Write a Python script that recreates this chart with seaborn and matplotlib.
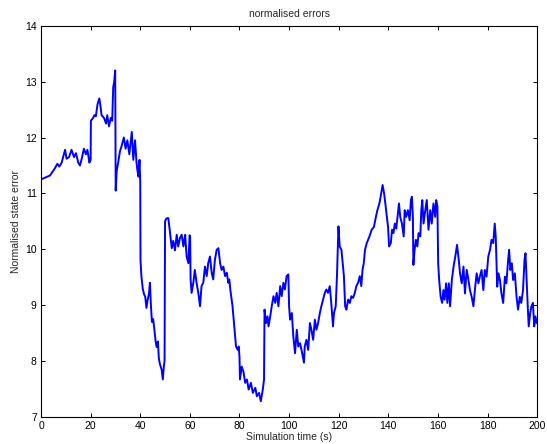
import matplotlib
matplotlib.use("Agg")
import matplotlib.pyplot as plt
import seaborn as sns

# values
time_s = [
    0, 1.5, 2.5, 3.6, 5.6, 6.6, 7.4, 8.3, 9.7, 10.3, 11.3, 12.3, 13.3, 14.1, 15, 15.7,
    16.4, 17.3, 18.1, 18.7, 19.5, 20, 20.1, 21, 21.5, 22.1, 22.8, 23.5, 24, 24.4,
    25.4, 26.2, 26.7, 27.4, 28.1, 28.7, 29.1, 29.5, 29.9, 30.1, 30.5, 31.1, 31.8,
    32.5, 33.4, 34.1, 34.8, 35.6, 36.1, 36.6, 37.2, 37.9, 38.5, 38.9, 39.3, 39.7,
    40.0, 40.1, 40.5, 41, 41.5, 42, 42.5, 43, 43.5, 43.9, 44.3, 44.7, 45.2, 45.6,
    46.2, 46.6, 47.1, 47.5, 47.9, 48.6, 49.1, 49.5, 49.8, 50.0, 50.5, 51.3, 52,
    52.7, 53.3, 54, 54.7, 55.3, 56, 56.7, 57.4, 58.1, 58.7, 59.4, 59.9, 60.1, 60.3,
    60.7, 61.4, 62, 62.7, 63.4, 64.1, 64.7, 65.4, 66.1, 66.8, 67.4, 68.1, 68.8,
    69.4, 70.1, 70.8, 71.5, 72.2, 72.8, 73.5, 74.2, 74.9, 75.5, 75.9, 76.3, 77.2,
    78, 78.6, 79.3, 79.7, 80, 80.2, 80.9, 81.6, 82.3, 83, 83.7, 84.6, 85.4, 86.4,
    87, 87.9, 88.6, 89.4, 89.9, 90.1, 90.7, 91.3, 91.7, 92.4, 93, 93.7, 94.4, 95,
    95.7, 96.4, 97, 97.7, 98.3, 99, 99.7, 100, 100.4, 101.1, 101.7, 102.4, 103.1,
    103.7, 104.4, 105, 106, 106.3, 107, 107.7, 108.4, 109, 109.7, 110.4, 111,
    111.7, 112.4, 113, 113.7, 114.4, 115, 115.7, 116.4, 117, 117.7, 118.1, 118.8,
    119.3, 119.9, 120.4, 121.1, 121.5, 122.1, 122.6, 123.1, 123.8, 124.5, 125.1,
    125.8, 126.5, 127.1, 127.8, 128.5, 129.1, 129.6, 130.1, 130.6, 131.3, 132.4,
    133.3, 134.2, 135, 135.6, 136.4, 136.9, 137.7, 138.3, 138.8, 139.4, 139.9,
    140.3, 141, 141.5, 142.1, 142.6, 143.2, 143.7, 144.3, 144.8, 145.5, 146.2,
    146.6, 147.2, 147.9, 148.6, 149.1, 149.5, 149.9, 150.1, 150.6, 151.1, 151.7,
    152.2, 152.9, 153.3, 153.7, 154.2, 154.9, 155.5, 156.2, 156.9, 157.5, 158.2,
    158.9, 159.3, 159.8, 160.1, 160.5, 161.1, 161.7, 162.2, 162.7, 163.3, 163.8,
    164.4, 164.9, 165.6, 166.3, 167, 167.7, 168.4, 168.9, 169.6, 170.3, 170.9,
    171.6, 172.3, 172.9, 173.6, 174.3, 174.9, 175.6, 176.3, 176.9, 177.6, 178.3,
    178.9, 179.6, 180.3, 181, 181.6, 182.3, 182.9, 183.3, 183.9, 184.4, 185,
    185.6, 186.3, 187, 187.6, 188.3, 188.7, 189.2, 189.8, 190.3, 191, 191.7,
    192.3, 193, 193.6, 194.3, 194.9, 195.3, 195.8, 196.2, 196.6, 197.2, 197.7,
    198.3, 198.8, 199.3, 199.8,
]
state_error = [
    11.25, 11.28, 11.3, 11.32, 11.45, 11.53, 11.48, 11.55, 11.78, 11.62, 11.65, 11.78, 11.65, 11.72, 11.55, 11.5,
    11.62, 11.8, 11.7, 11.78, 11.55, 11.6, 12.3, 12.35, 12.4, 12.38, 12.6, 12.7, 12.55, 12.4,
    12.35, 12.25, 12.4, 12.2, 12.35, 12.3, 12.9, 13.0, 13.2, 11.05, 11.4, 11.55, 11.75,
    11.85, 12.0, 11.8, 11.95, 11.7, 11.9, 12.1, 11.6, 11.95, 11.55, 11.4, 11.3, 11.6,
    11.2, 9.8, 9.5, 9.3, 9.2, 9.15, 8.95, 9.1, 9.2, 9.4, 9.0, 8.7, 8.75, 8.6,
    8.35, 8.25, 8.35, 8.05, 7.95, 7.85, 7.67, 7.9, 8.0, 10.5, 10.55, 10.56, 10.3,
    10.02, 10.15, 9.98, 10.26, 10.05, 10.2, 10.26, 10.05, 10.26, 9.87, 9.75, 10.25, 10.23, 9.46,
    9.22, 9.4, 9.63, 9.4, 9.22, 8.98, 9.34, 9.4, 9.69, 9.52, 9.75, 9.87, 9.58,
    9.46, 9.81, 9.99, 10.02, 9.75, 9.63, 9.69, 9.52, 9.58, 9.40, 9.46, 9.28, 8.98,
    8.56, 8.26, 8.2, 8.26, 8.08, 7.67, 7.9, 7.81, 7.61, 7.67, 7.49, 7.61, 7.43, 7.52,
    7.37, 7.43, 7.28, 7.49, 7.67, 8.92, 8.68, 8.8, 8.62, 8.8, 8.98, 9.16, 9.04, 9.22,
    8.98, 9.34, 9.16, 9.4, 9.28, 9.52, 9.55, 8.98, 8.74, 8.86, 8.44, 8.14, 8.56,
    8.26, 8.32, 8.2, 7.97, 8.26, 8.38, 8.2, 8.68, 8.56, 8.38, 8.74, 8.56,
    8.68, 8.86, 8.98, 9.1, 9.22, 9.28, 9.22, 9.34, 9.04, 8.62, 8.86, 8.98,
    9.52, 10.41, 10.05, 9.99, 9.81, 9.52, 8.98, 8.92, 9.1, 9.04, 9.16,
    9.13, 9.22, 9.34, 9.4, 9.52, 9.34, 9.63, 9.75, 9.99, 10.11, 10.23,
    10.35, 10.40, 10.58, 10.70, 10.82, 10.94, 11.15, 11.0, 10.82, 10.58, 10.40,
    10.05, 10.11, 10.35, 10.29, 10.46, 10.37, 10.58, 10.82, 10.58, 10.46, 10.23,
    10.70, 10.58, 10.70, 10.52, 10.88, 10.94, 10.58, 9.72, 9.99, 10.17, 10.05,
    10.29, 10.23, 10.70, 10.88, 10.46, 10.70, 10.88, 10.35, 10.70, 10.46, 10.82,
    10.58, 10.88, 10.76, 9.75, 9.45, 9.15, 9.04, 9.27, 9.10, 9.39, 9.04,
    9.39, 8.98, 9.45, 9.69, 9.87, 10.08, 9.81, 9.57, 9.39, 9.69, 9.21,
    9.63, 9.45, 9.27, 9.15, 8.98, 9.27, 9.57, 9.39, 9.51, 9.63, 9.27,
    9.63, 9.51, 9.87, 9.99, 10.17, 10.11, 10.46, 10.23, 9.33, 9.57, 9.45,
    9.21, 9.04, 9.51, 9.39, 9.81, 9.99, 9.63, 9.75, 9.45, 9.57, 9.15,
    8.92, 9.15, 9.04, 9.27, 9.81, 9.93, 9.39, 8.98, 8.62, 8.86, 8.98,
    9.04, 8.62, 8.80, 8.68,
]
x_ticks = [0, 20, 40, 60, 80, 100, 120, 140, 160, 180, 200]
y_ticks = [7, 8, 9, 10, 11, 12, 13, 14]

sns.set_style("ticks")
plt.rcParams['font.family'] = ['Liberation Sans', 'DejaVu Sans']
plt.rcParams['xtick.direction'] = 'in'
plt.rcParams['ytick.direction'] = 'in'

fig = plt.figure(figsize=(5.47, 4.44), dpi=100)
ax = fig.add_axes([0.075, 0.061, 0.907, 0.881])

sns.lineplot(x=time_s, y=state_error, ax=ax, color='#0000ff', linewidth=1.4,
             estimator=None, sort=False)

ax.set_xlim(0, 200)
ax.set_ylim(7, 14)
ax.set_xticks(x_ticks)
ax.set_yticks(y_ticks)
ax.tick_params(axis='both', which='both', top=True, right=True, length=3,
               width=0.7, labelsize=7.5, colors='black', pad=3)
for side in ax.spines.values():
    side.set_visible(True)
    side.set_linewidth(0.8)
    side.set_color('black')

ax.set_title("normalised errors", fontsize=7.5, pad=6)
ax.set_xlabel("Simulation time (s)", fontsize=7.5, labelpad=1)
ax.set_ylabel("Normalised state error", fontsize=7.5, labelpad=3)

fig.savefig("out.png", dpi=100)
